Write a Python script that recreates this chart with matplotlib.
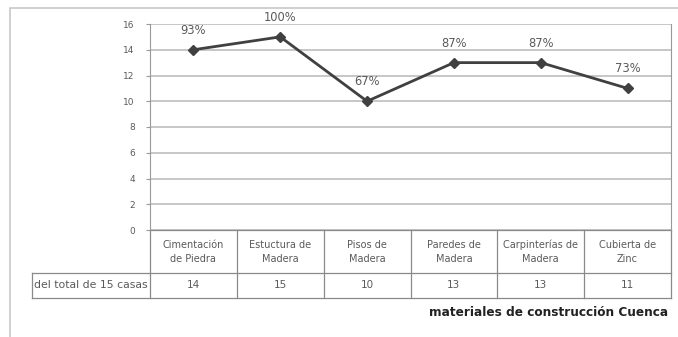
import numpy as np
import matplotlib.pyplot as plt
from matplotlib.patches import Rectangle
from matplotlib.transforms import blended_transform_factory

categories = ['Cimentación\nde Piedra', 'Estuctura de\nMadera', 'Pisos de\nMadera',
              'Paredes de\nMadera', 'Carpinterías de\nMadera', 'Cubierta de\nZinc']
casos = [14, 15, 10, 13, 13, 11]
porcentajes = ['93%', '100%', '67%', '87%', '87%', '73%']
fila = 'del total de 15 casas'
titulo = 'materiales de construcción Cuenca'

W, H = 678, 337
fig = plt.figure(figsize=(W / 100, H / 100), dpi=100)
plt.rcParams['font.family'] = ['DejaVu Sans']

# outer frame
fig.patches.append(Rectangle((10 / W, -0.1), 1.0, 1 - 8 / H + 0.1, transform=fig.transFigure,
                             fill=False, edgecolor='#c8c8c8', linewidth=1.2))

ax = fig.add_axes([150 / W, (H - 230) / H, 521 / W, 206 / H])
x = np.arange(len(casos))
ax.plot(x, casos, color='#404040', linewidth=2, marker='D', markersize=5, zorder=3)
for xi, yi, lab in zip(x, casos, porcentajes):
    ax.annotate(lab, (xi, yi), xytext=(0, 14), textcoords='offset points',
                ha='center', va='center', fontsize=8.3, color='#5a5a5a')

n = len(casos)
ax.set_xlim(-0.5, n - 0.5)
ax.set_ylim(0, 16)
ax.set_yticks(range(0, 17, 2))
ax.set_xticks([])
ax.grid(axis='y', color='#bdbdbd', linewidth=1.2)
ax.set_axisbelow(True)
ax.tick_params(axis='y', length=3, pad=8, labelsize=6.5, labelcolor='#5a5a5a', color='#999999')
for s in ['top', 'bottom']:
    ax.spines[s].set_visible(False)
for s in ['left', 'right']:
    ax.spines[s].set_color('#999999')

# data table under the axis: x in category units, y in axes fraction
tr = blended_transform_factory(ax.transData, ax.transAxes)
y_mid = -43 / 206
y_bot = -68 / 206
x_lab = -0.5 - 118 / 87
lc = '#8a8a8a'
kw = dict(transform=tr, clip_on=False, color=lc, linewidth=0.9)
for i in range(n + 1):
    ax.plot([i - 0.5, i - 0.5], [0, y_bot], **kw)
ax.plot([-0.5, n - 0.5], [0, 0], **kw)
ax.plot([x_lab, n - 0.5], [y_mid, y_mid], **kw)
ax.plot([x_lab, n - 0.5], [y_bot, y_bot], **kw)
ax.plot([x_lab, x_lab], [y_mid, y_bot], **kw)
for xi, cat, val in zip(x, categories, casos):
    ax.text(xi, y_mid / 2, cat, transform=tr, ha='center', va='center',
            fontsize=7, color='#5a5a5a', linespacing=1.5)
    ax.text(xi, (y_mid + y_bot) / 2, str(val), transform=tr, ha='center', va='center',
            fontsize=7.5, color='#5a5a5a')
ax.text(x_lab + 0.02, (y_mid + y_bot) / 2, fila, transform=tr, ha='left', va='center',
        fontsize=7.8, color='#5a5a5a')

fig.text(668 / W, 1 - 313 / H, titulo, ha='right', va='center', fontsize=8.7,
         fontweight='bold', color='#222222')

fig.savefig('out.png', dpi=100)
